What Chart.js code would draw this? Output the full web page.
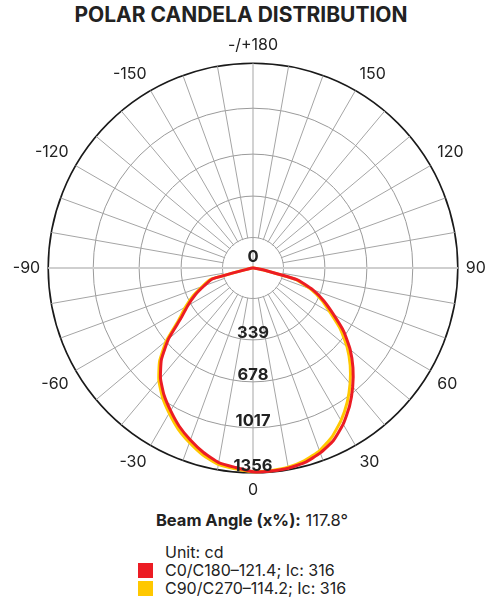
<!DOCTYPE html>
<html>
<head>
<meta charset="utf-8">
<title>Polar Candela Distribution</title>
<script src="https://cdn.jsdelivr.net/npm/chart.js@4.4.1/dist/chart.umd.min.js"></script>
<style>
  html, body { margin: 0; padding: 0; width: 486px; height: 601px; overflow: hidden; background: #fff; }
  body { position: relative; font-family: Inter, "Noto Sans", sans-serif; color: #222; }
  #title { position: absolute; top: 2px; left: 0; width: 482px; text-align: center; font-weight: 700; font-size: 21px; }
  #polar { position: absolute; left: -27px; top: 36px; }
  #beam { position: absolute; top: 510px; left: 0; width: 504px; text-align: center; font-size: 16.5px; }
  #beam b { font-weight: 700; }
  #legend { position: absolute; top: 543px; left: 138px; font-size: 16px; line-height: 18px; }
  #legend .unit { padding-left: 27px; }
  .sw { display: inline-block; width: 15px; height: 15px; margin-right: 12px; vertical-align: -2px; }
</style>
</head>
<body>
<div id="title">POLAR CANDELA DISTRIBUTION</div>
<canvas id="polar" width="560" height="464"></canvas>
<div id="beam"><b>Beam Angle (x%):</b> 117.8°</div>
<div id="legend"></div>
<script>
// gamma angles, clockwise from the top of the plot
const angles = [
  180, 175, 170, 165, 160, 155, 150, 145, 140, 135, 130, 125, 120, 115, 110, 105, 100, 95,
  90, 85, 80, 75, 70, 65, 60, 55, 50, 45, 40, 35, 30, 25, 20, 15, 10, 5, 0,
  -5, -10, -15, -20, -25, -30, -35, -40, -45, -50, -55, -60, -65, -70, -75, -80, -85, -90,
  -95, -100, -105, -110, -115, -120, -125, -130, -135, -140, -145, -150, -155, -160, -165, -170, -175
];

// candela values, C0/C180 plane
const c0Values = [
  0, 0, 0, 0, 0, 0, 0, 0, 0, 0, 0, 0, 0, 0, 0, 0, 0, 0,
  0, 13, 66, 304, 420, 518, 615, 734, 840, 936, 1027, 1115, 1194, 1260, 1303, 1333, 1346, 1349, 1349,
  1326, 1308, 1265, 1212, 1156, 1091, 1027, 953, 858, 730, 584, 499, 423, 344, 278, 20, 0, 0,
  0, 0, 0, 0, 0, 0, 0, 0, 0, 0, 0, 0, 0, 0, 0, 0, 0
];

// candela values, C90/C270 plane
const c90Values = [
  0, 0, 0, 0, 0, 0, 0, 0, 0, 0, 0, 0, 0, 0, 0, 0, 0, 0,
  0, 10, 55, 292, 405, 500, 590, 707, 813, 910, 1000, 1087, 1166, 1235, 1288, 1320, 1340, 1347, 1349,
  1335, 1320, 1282, 1230, 1175, 1110, 1045, 970, 875, 748, 600, 515, 438, 358, 288, 25, 0, 0,
  0, 0, 0, 0, 0, 0, 0, 0, 0, 0, 0, 0, 0, 0, 0, 0, 0
];

const ringValues = [202, 476, 754, 1058, 1356];
const ringLabels = ['0', '339', '678', '1017', '1356'];

const seriesNames = ['C0/C180\u2013121.4; Ic: 316', 'C90/C270\u2013114.2; Ic: 316'];
const seriesColors = ['#ec1c24', '#ffc800'];

const FONT = 'Inter';

// inner hub + ring labels down the 0 axis
const hubPlugin = {
    id: 'hub',
    beforeDatasetsDraw(chart) {
        const s = chart.scales.r;
        const ctx = chart.ctx;
        const r0 = s.getDistanceFromCenterForValue(ringValues[0]);
        ctx.save();
        ctx.fillStyle = '#fff';
        ctx.beginPath();
        ctx.arc(s.xCenter, s.yCenter, r0 - 0.7, 0, Math.PI * 2);
        ctx.fill();
        ctx.strokeStyle = '#cfcfcf';
        ctx.lineWidth = 2;
        ctx.beginPath();
        ctx.moveTo(s.xCenter - r0, s.yCenter);
        ctx.lineTo(s.xCenter + r0, s.yCenter);
        ctx.stroke();
        ctx.strokeStyle = '#a5a5a5';
        ctx.lineWidth = 1;
        ctx.beginPath();
        ctx.moveTo(s.xCenter, s.yCenter - r0);
        ctx.lineTo(s.xCenter, s.yCenter + r0);
        ctx.stroke();
        ctx.restore();
    },
    afterDatasetsDraw(chart) {
        const s = chart.scales.r;
        const ctx = chart.ctx;
        ctx.save();
        ctx.font = '700 16.5px ' + FONT;
        ctx.fillStyle = '#222';
        ctx.textAlign = 'center';
        ctx.textBaseline = 'middle';
        ringValues.forEach((v, i) => {
            const r = s.getDistanceFromCenterForValue(v);
            const y = i === 0 ? s.yCenter - 11 : s.yCenter + r - 7;
            ctx.fillText(ringLabels[i], s.xCenter, y);
        });
        ctx.restore();
    }
};

const ctx = document.getElementById('polar').getContext('2d');

new Chart(ctx, {
    type: 'radar',
    data: {
        labels: angles,
        datasets: [
            {
                label: seriesNames[0],
                data: c0Values,
                borderColor: seriesColors[0],
                borderWidth: 3,
                pointRadius: 0,
                fill: false,
                tension: 0.15,
                borderJoinStyle: 'round'
            },
            {
                label: seriesNames[1],
                data: c90Values,
                borderColor: seriesColors[1],
                borderWidth: 3,
                pointRadius: 0,
                fill: false,
                tension: 0.15,
                borderJoinStyle: 'round'
            }
        ]
    },
    options: {
        responsive: false,
        animation: false,
        plugins: {
            legend: { display: false },
            tooltip: { enabled: false }
        },
        scales: {
            r: {
                min: 0,
                max: 1356,
                startAngle: 0,
                afterBuildTicks: (scale) => {
                    scale.ticks = [0, ...ringValues].map(v => ({ value: v }));
                },
                ticks: { display: false },
                grid: {
                    circular: true,
                    color: (c) => c.index === ringValues.length ? '#1a1a1a' : '#9a9a9a',
                    lineWidth: (c) => c.index === ringValues.length ? 1.6 : 1
                },
                angleLines: {
                    color: (c) => (c.index === 18 || c.index === 54) ? '#cfcfcf' : '#a5a5a5',
                    lineWidth: (c) => c.index % 2 ? 0 : ((c.index === 18 || c.index === 54) ? 2 : 1)
                },
                pointLabels: {
                    padding: 8,
                    color: '#222',
                    font: { family: FONT, size: 16 },
                    callback: (label) => {
                        if (label % 30 !== 0) return '';
                        return Math.abs(label) === 180 ? '-/+180' : String(label);
                    }
                }
            }
        }
    },
    plugins: [hubPlugin]
});

// legend under the plot
const legend = document.getElementById('legend');
legend.innerHTML = '<div class="unit">Unit: cd</div>' + seriesNames.map((name, i) =>
    `<div><span class="sw" style="background:${seriesColors[i]}"></span>${name}</div>`
).join('');
</script>
</body>
</html>
